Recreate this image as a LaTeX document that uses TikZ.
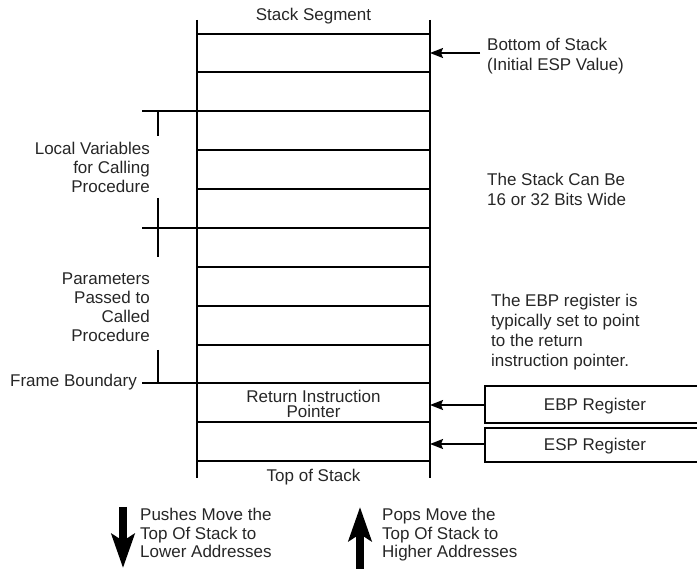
\documentclass[tikz,border=0pt]{standalone}
\usepackage{fontspec}
\setmainfont{Liberation Sans}
\usetikzlibrary{arrows.meta}
\begin{document}
\begin{tikzpicture}[x=1pt,y=-1pt,
  txt/.style={inner sep=0pt,text=black!85,font=\fontsize{17}{19}\selectfont},
  rowline/.style={line width=1.8pt},
  thinrow/.style={line width=1.1pt},
  tick/.style={line width=1.8pt},
  ptr/.style={line width=1.6pt,-{Stealth[length=13pt,width=10pt,inset=2pt]}},
  bigarrow/.style={line width=8.5pt,-{Stealth[length=34pt,width=23pt,inset=7pt]}},
  regbox/.style={draw,line width=1.8pt,inner sep=0pt,minimum width=222pt,anchor=north west}]
\useasboundingbox (0,0) rectangle (697,569);
\clip (0,0) rectangle (697,569);

% column of stack slots
\coordinate (colTL) at (197,20);
\coordinate (colBL) at (197,478);
\coordinate (colTR) at (430,20);
\coordinate (colBR) at (430,478);
\draw[rowline] (colTL) -- (colBL);
\draw[rowline] (colTR) -- (colBR);
\foreach \y in {34,72,267,306,345,422,461}
  \draw[rowline] (197,\y) -- (430,\y);
\foreach \y in {150,189}
  \draw[thinrow] (197,\y) -- (430,\y);
% frame lines that reach out to the left
\foreach \y in {111,228,383}
  \draw[rowline] (142,\y) -- (430,\y);
% brace ticks
\draw[tick] (158,111) -- (158,136);
\draw[tick] (158,198) -- (158,257);
\draw[tick] (158,350) -- (158,383);

% labels inside and around the column (base anchors sit on the last line)
\node[txt,anchor=base] (seg) at (313.5,21) {Stack Segment};
\node[txt,align=center,anchor=base,font=\fontsize{17}{15.7}\selectfont] (rip) at (313.5,418) {Return Instruction\\Pointer};
\node[txt,anchor=base] (tos) at (313.5,482) {Top of Stack};

\node[txt,align=right,anchor=base east] (locals) at (150,192.5) {Local Variables\\for Calling\\Procedure};
\node[txt,align=right,anchor=base east] (params) at (150,341.7) {Parameters\\Passed to\\Called\\Procedure};
\node[txt,anchor=base east] (frame) at (137,387) {Frame Boundary};

\node[txt,align=left,anchor=base west,font=\fontsize{17}{20}\selectfont] (bottom) at (487,71) {Bottom of Stack\\(Initial ESP Value)};
\node[txt,align=left,anchor=base west,font=\fontsize{17}{20.5}\selectfont] (width) at (487,206) {The Stack Can Be\\16 or 32 Bits Wide};
\node[txt,align=left,anchor=base west,font=\fontsize{17}{20}\selectfont] (ebpnote) at (491,367) {The EBP register is\\typically set to point\\to the return\\instruction pointer.};

% register boxes
\node[regbox,minimum height=37pt] (ebp) at (484,385) {};
\node[txt,anchor=base] (ebpt) at (595,411) {EBP Register};
\node[regbox,minimum height=34pt] (esp) at (484,427) {};
\node[txt,anchor=base] (espt) at (595,451) {ESP Register};

% pointers into the stack
\coordinate (bosTip) at (430,53);
\coordinate (bosTail) at (480,53);
\coordinate (ebpTip) at (430,405);
\coordinate (espTip) at (430,444);
\draw[ptr] (bosTail) -- (bosTip);
\draw[ptr] (ebp.west |- ebpTip) -- (ebpTip);
\draw[ptr] (esp.west |- espTip) -- (espTip);

% push / pop direction arrows
\coordinate (pushA) at (123,507);
\coordinate (pushB) at (123,568);
\coordinate (popA) at (360,572);
\coordinate (popB) at (360,507);
\draw[bigarrow] (pushA) -- (pushB);
\draw[bigarrow] (popA) -- (popB);
\node[txt,align=left,anchor=base west,font=\fontsize{17}{18.7}\selectfont] (pushtxt) at (140,558) {Pushes Move the\\Top Of Stack to\\Lower Addresses};
\node[txt,align=left,anchor=base west,font=\fontsize{17}{18.7}\selectfont] (poptxt) at (382,558) {Pops Move the\\Top Of Stack to\\Higher Addresses};
\end{tikzpicture}
\end{document}
